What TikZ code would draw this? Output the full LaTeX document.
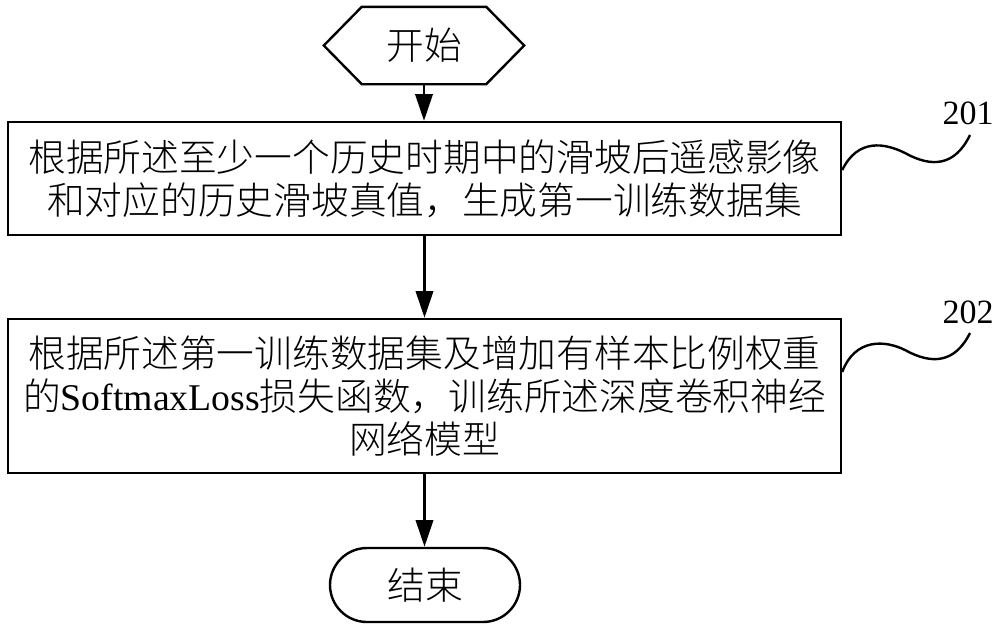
\documentclass[tikz,border=0pt]{standalone}
\usepackage{fontspec}
\setmainfont{Liberation Serif}
\newfontfamily\cjk{Noto Sans CJK SC Light}
\usetikzlibrary{arrows.meta,shapes.misc,calc}
\begin{document}
\begin{tikzpicture}[x=0.75pt,y=-0.75pt,line width=1.8pt,
  txt/.style={font=\fontsize{28.3pt}{32pt}\selectfont, align=center, inner sep=0pt},
  box/.style={draw, txt},
  flow/.style={-{Triangle[length=20pt,width=13pt]}},
  lbl/.style={font=\fontsize{25.5pt}{28pt}\selectfont, inner sep=0pt}]
\useasboundingbox (0,0) rectangle (1000,626);
% start hexagon
\node[txt, minimum width=148.5pt, minimum height=56.25pt] (start) at (424,45.5) {\cjk 开始};
\draw ($(start.west)$) -- ($(start.north west)+(38,0)$) -- ($(start.north east)+(-38,0)$)
  -- (start.east) -- ($(start.south east)+(-38,0)$) -- ($(start.south west)+(38,0)$) -- cycle;
% boxes
\node[box, minimum width=624.75pt, minimum height=84.75pt] (b1) at (424.5,178.5)
  {\cjk 根据所述至少一个历史时期中的滑坡后遥感影像\\\cjk 和对应的历史滑坡真值，生成第一训练数据集};
\node[box, minimum width=624.75pt, minimum height=115.5pt] (b2) at (424.5,396)
  {\cjk 根据所述第一训练数据集及增加有样本比例权重\\{\cjk 的}SoftmaxLoss{\cjk 损失函数，训练所述深度卷积神经}\\\cjk 网络模型};
% end
\node[draw, txt, rounded rectangle, minimum width=142.5pt, minimum height=55.5pt] (end) at (425,585) {\cjk 结束};
% arrows
\draw[flow] (start.south) -- (start.south |- b1.north);
\draw[flow] (b1.south) -- (b2.north);
\draw[flow] (b2.south) -- (b2.south |- end.north);
% labels
\node[lbl] (l1) at (968,113) {201};
\node[lbl] (l2) at (968,312) {202};
\coordinate (w1) at (970,135);
\coordinate (w2) at (970,333);
\draw[line width=1.8pt] ($(b1.east)+(0,-8.5)$) .. controls (858,138) and (885,143) .. (905,153)
  .. controls (932,168) and (955,166) .. (w1);
\draw[line width=1.8pt] ($(b2.east)+(0,-24)$) .. controls (855,338) and (885,340) .. (905,350)
  .. controls (932,365) and (955,363) .. (w2);
\end{tikzpicture}
\end{document}
